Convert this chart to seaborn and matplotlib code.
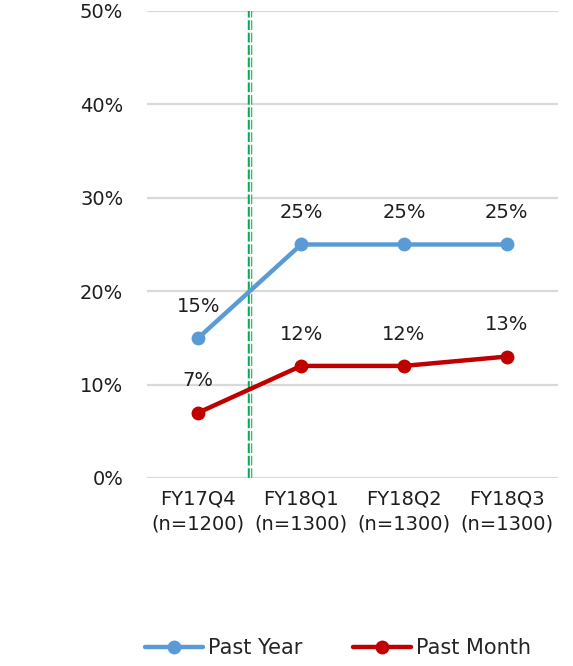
import matplotlib
matplotlib.use("Agg")
import matplotlib.pyplot as plt
import seaborn as sns
import pandas as pd

quarters = ["FY17Q4\n(n=1200)", "FY18Q1\n(n=1300)", "FY18Q2\n(n=1300)", "FY18Q3\n(n=1300)"]
past_year = [15, 25, 25, 25]
past_month = [7, 12, 12, 13]
series_names = ["Past Year", "Past Month"]
y_ticks = [0, 10, 20, 30, 40, 50]

sns.set_theme(style="white")
plt.rcParams["font.family"] = ["DejaVu Sans"]

df = pd.DataFrame({
    "x": list(range(len(quarters))) * 2,
    "value": past_year + past_month,
    "series": [series_names[0]] * len(quarters) + [series_names[1]] * len(quarters),
})

palette = {"Past Year": "#5B9BD5", "Past Month": "#C00000"}

fig = plt.figure(figsize=(5.73, 6.66), dpi=100)
ax = fig.add_axes([0.2565, 0.2823, 0.7175, 0.7012])

sns.lineplot(data=df, x="x", y="value", hue="series", palette=palette,
             marker="o", markersize=10, linewidth=3.2, markeredgewidth=0,
             ax=ax, legend=False, zorder=3)

text_color = "#1e1e1e"
ax.set_xlim(-0.5, len(quarters) - 0.5)
ax.set_ylim(0, 50)
ax.set_yticks(y_ticks)
ax.set_yticklabels([f"{t}%" for t in y_ticks], fontsize=14, color=text_color)
ax.set_xticks(range(len(quarters)))
ax.set_xticklabels(quarters, fontsize=14, color=text_color, linespacing=1.45)
ax.tick_params(axis="both", length=0)
ax.tick_params(axis="y", pad=17)
ax.tick_params(axis="x", pad=8)
ax.set_xlabel("")
ax.set_ylabel("")
for s in ax.spines.values():
    s.set_visible(False)
ax.yaxis.grid(True, color="#D9D9D9", linewidth=1.6)
ax.set_axisbelow(True)

# period divider between the first and second quarter
ax.axvline(0.5, color="#00B050", linewidth=3.2, linestyle=(0, (2.2, 0.6)), zorder=2)
ax.axvline(0.5, color="white", linewidth=1.0, zorder=2.1)

for vals, name in [(past_year, series_names[0]), (past_month, series_names[1])]:
    for i, v in enumerate(vals):
        ax.annotate(f"{v}%", (i, v), xytext=(0, 16), textcoords="offset points",
                    ha="center", va="bottom", fontsize=14, color=text_color)

handles = [plt.Line2D([], [], color=palette[n], marker="o", markersize=10,
                      linewidth=3.2, markeredgewidth=0) for n in series_names]
fig.legend(handles, series_names, loc="center", bbox_to_anchor=(0.59, 0.027),
           ncol=2, frameon=False, fontsize=15, handlelength=2.8,
           handletextpad=0.25, columnspacing=2.4)

fig.savefig("out.png", dpi=100)
